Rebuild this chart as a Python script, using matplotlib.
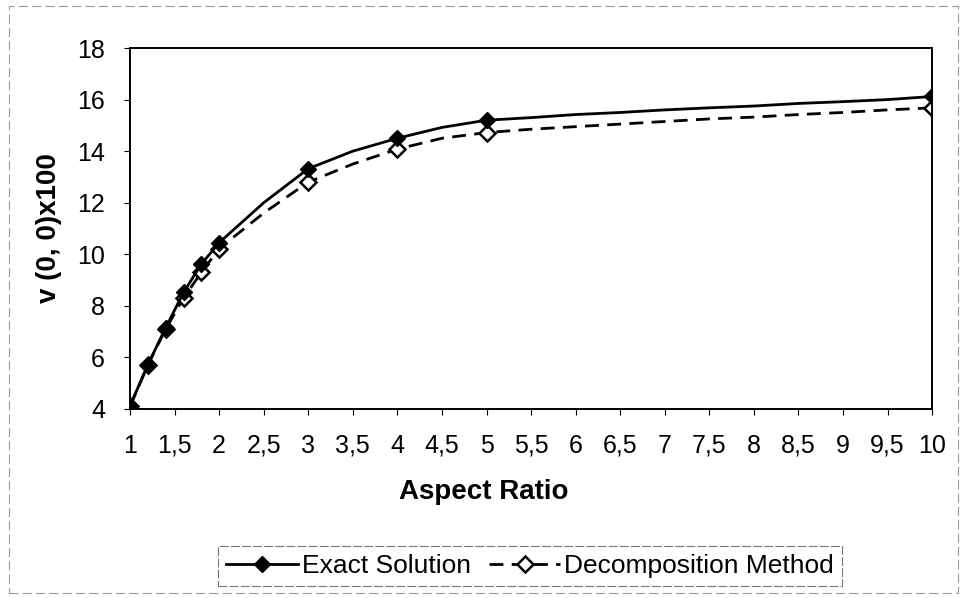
import numpy as np
import matplotlib
matplotlib.use("Agg")
import matplotlib.pyplot as plt
from matplotlib.patches import Rectangle
from matplotlib.ticker import FixedLocator, FuncFormatter

plt.rcParams['font.family'] = ['Liberation Sans', 'DejaVu Sans']

# aspect ratios and v(0,0)*100 for both methods
aspect = [1, 1.2, 1.4, 1.6, 1.8, 2, 2.5, 3, 3.5, 4, 4.5, 5,
          5.5, 6, 6.5, 7, 7.5, 8, 8.5, 9, 9.5, 10]
exact = [4.12, 5.72, 7.15, 8.52, 9.62, 10.45, 12.0, 13.32, 14.0, 14.5, 14.92, 15.2,
         15.3, 15.42, 15.5, 15.6, 15.68, 15.75, 15.85, 15.92, 16.0, 16.12]
decomp = [4.1, 5.7, 7.1, 8.3, 9.3, 10.22, 11.6, 12.8, 13.5, 14.08, 14.5, 14.72,
          14.85, 14.95, 15.05, 15.15, 15.25, 15.32, 15.42, 15.5, 15.6, 15.68]
marked = [1, 1.2, 1.4, 1.6, 1.8, 2, 3, 4, 5, 10]
marker_idx = [aspect.index(v) for v in marked]

xticks = np.arange(1, 10.01, 0.5)
yticks = [4, 6, 8, 10, 12, 14, 16, 18]

fig = plt.figure(figsize=(9.64, 5.98), dpi=100)
ax = fig.add_axes([0.1349, 0.3161, 0.832, 0.6036])

# exact solution drawn on top so its filled diamonds cover the open ones
ax.plot(aspect, exact, color='black', lw=2.0, marker='D', ms=8.5,
        mfc='black', mec='black', markevery=marker_idx, label='Exact Solution',
        zorder=3)
ax.plot(aspect, decomp, color='black', lw=2.0, ls=(0, (5, 3)), marker='D', ms=8,
        mfc='white', mec='black', mew=1.8, markevery=marker_idx,
        label='Decomposition Method', zorder=2)

ax.set_xlim(1, 10)
ax.set_ylim(4, 18)
ax.xaxis.set_major_locator(FixedLocator(xticks))
ax.xaxis.set_major_formatter(FuncFormatter(lambda v, p: ('%g' % v).replace('.', ',')))
ax.set_yticks(yticks)
ax.tick_params(direction='out', length=4, width=0.8, labelsize=18)
ax.tick_params(axis='y', pad=14)
ax.tick_params(axis='x', pad=14)
for s in ax.spines.values():
    s.set_linewidth(1.4)

ax.set_xlabel('Aspect Ratio', fontsize=20, fontweight='bold')
ax.xaxis.set_label_coords((484 - 130) / 802, -0.195)
ax.set_ylabel('v (0, 0)x100', fontsize=20, fontweight='bold')
ax.yaxis.set_label_coords(-0.085, 0.5)

leg = fig.legend(loc='center', bbox_to_anchor=(0.55, 0.0535), ncol=2, fontsize=19,
                 frameon=True, fancybox=False, handlelength=2.7, handletextpad=0.15,
                 columnspacing=0.7, borderpad=0.3, borderaxespad=0)
leg.get_frame().set_edgecolor('#555555')
leg.get_frame().set_linewidth(0.8)
leg.get_frame().set_linestyle((0, (8, 2)))

# faint dashed border around the whole chart area
fig.patches.append(Rectangle((0.009, 0.008), 0.985, 0.982, transform=fig.transFigure,
                             fill=False, ec='#999999', lw=0.8, ls=(0, (8, 4))))

fig.savefig('out.png', dpi=100)
